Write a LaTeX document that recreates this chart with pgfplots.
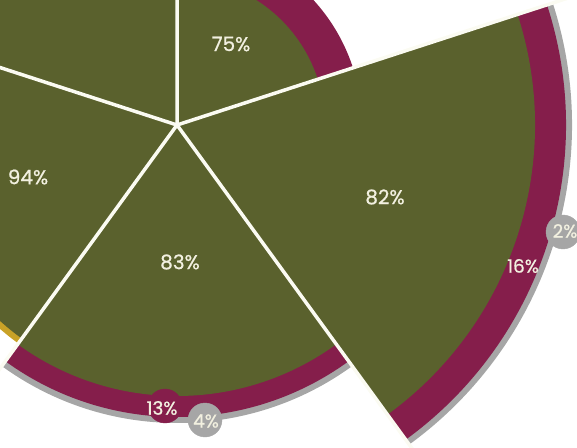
\documentclass[border=0pt]{standalone}
\usepackage{pgfplots}
\usepackage{pgfplotstable}
\pgfplotsset{compat=1.18}
\usepackage{fontspec}
\setmainfont{Poppins}
\newfontfamily\lbl[FakeBold=0.8]{Poppins}

\definecolor{cgreen}{RGB}{90,97,45}
\definecolor{cmaroon}{RGB}{133,30,75}
\definecolor{cgray}{RGB}{166,166,166}
\definecolor{cgold}{RGB}{201,162,39}
\definecolor{ctext}{RGB}{242,240,224}
\definecolor{cline}{RGB}{251,251,242}

\pgfdeclareplotmark{empty}{}

% bands: start angle, end angle, outer radius (px)
\pgfplotstableread{
a1   a2   r
-54  18   395
-126 -54  298
}\graybands
\pgfplotstableread{
a1   a2   r
-54  18   389
-126 -54  292
18   90   185
}\maroonbands
\pgfplotstableread{
a1   a2   r
162  234  270
}\goldbands
\pgfplotstableread{
a1   a2   r
-54  18   358
-126 -54  271
162  234  264
18   90   148
90   162  260
}\greenbands

% gaps between wedges, from the centre outwards
\pgfplotstableread{
x      y
0      0
0      450
nan    nan
0      0
428    139
nan    nan
0      0
264.5  -364
nan    nan
0      0
-264.5 -364
nan    nan
0      0
-428   139
}\gaps

% big labels inside the wedges
\pgfplotstableread{
x    y    label
54   81   75\%
208  -72  82\%
3    -137 83\%
-149 -52  94\%
-97  128  84\%
}\biglabels

% small labels on the outer bands
\pgfplotstableread{
x    y    label
346  -141 16\%
388  -106 2\%
-15  -283 13\%
29   -296 4\%
}\smalllabels

\pgfplotsset{
  sector/.style={scatter, only marks, mark=empty,
    visualization depends on={\thisrow{a1}\as\aone},
    visualization depends on={\thisrow{a2}\as\atwo},
    visualization depends on={\thisrow{r}\as\rad},
    scatter/@pre marker code/.code={%
      \fill (0pt,0pt) -- (\aone:\rad pt)
        arc[start angle=\aone, end angle=\atwo, radius=\rad pt] -- cycle;
      \scope},
    scatter/@post marker code/.code={\endscope},
  },
}

\begin{document}
\begin{tikzpicture}
\begin{axis}[
  name=ax,
  x=1pt, y=1pt,
  xmin=-177, xmax=400,
  ymin=-322, ymax=125,
  hide axis,
  clip marker paths=true,
  unbounded coords=jump,
]
\addplot[sector, fill=cgray, draw=none] table[x expr=0, y expr=0] {\graybands};
\addplot[sector, fill=cmaroon, draw=none] table[x expr=0, y expr=0] {\maroonbands};
\addplot[sector, fill=cgold, draw=none] table[x expr=0, y expr=0] {\goldbands};
\addplot[sector, fill=cgreen, draw=none] table[x expr=0, y expr=0] {\greenbands};

\addplot[cline, line width=3.5pt, mark=none] table {\gaps};

% bubbles behind the small labels
\addplot[only marks, mark=*, mark size=17pt, mark options={fill=cmaroon, draw=cmaroon}]
  coordinates {(-12,-281)};
\addplot[only marks, mark=*, mark size=17pt, mark options={fill=cgray, draw=cgray}]
  coordinates {(28,-295) (386,-107)};

\addplot[draw=none, mark=none, nodes near coords, point meta=explicit symbolic,
  every node near coord/.style={anchor=center, text=ctext, inner sep=0pt,
    font=\lbl\fontsize{20}{22}\selectfont}]
  table[meta=label] {\biglabels};
\addplot[draw=none, mark=none, nodes near coords, point meta=explicit symbolic,
  every node near coord/.style={anchor=center, text=ctext, inner sep=0pt,
    font=\lbl\fontsize{18.5}{20}\selectfont}]
  table[meta=label] {\smalllabels};
\end{axis}
\pgfresetboundingbox
\path (ax.south west) rectangle (ax.north east);
\end{tikzpicture}
\end{document}
